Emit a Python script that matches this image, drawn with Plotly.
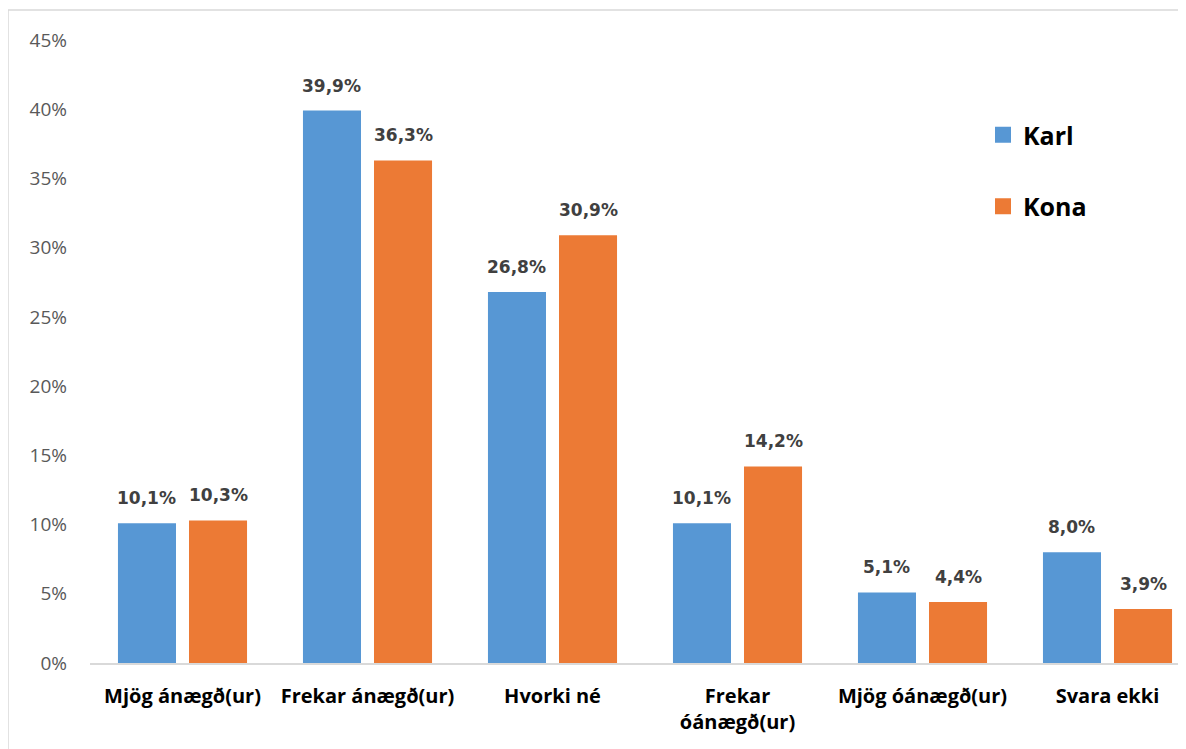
import plotly.graph_objects as go

categories = ["Mjög ánægð(ur)", "Frekar ánægð(ur)", "Hvorki né", "Frekar<br>óánægð(ur)", "Mjög óánægð(ur)", "Svara ekki"]
karl = [10.1, 39.9, 26.8, 10.1, 5.1, 8.0]
kona = [10.3, 36.3, 30.9, 14.2, 4.4, 3.9]
series_names = ["Karl", "Kona"]
tick_vals = [0, 5, 10, 15, 20, 25, 30, 35, 40, 45]
tick_text = [f"{v}%" for v in tick_vals]

blue = "#5797d4"
orange = "#ec7a35"
FONT = "Open Sans"

x_idx = list(range(len(categories)))

fig = go.Figure()
for name, vals, col in [(series_names[0], karl, blue), (series_names[1], kona, orange)]:
    fig.add_trace(go.Bar(x=x_idx, y=vals, name=name, marker=dict(color=col, line=dict(width=0)),
                         showlegend=False))
    fig.add_trace(go.Scatter(x=[None], y=[None], mode="markers", name=name, legendgroup=name,
                             marker=dict(symbol="square", size=16, color=col)))

def fmt(v):
    return f"{v:.1f}".replace(".", ",") + "%"

bargap = 0.232
off = (1 - bargap) / 4
for vals, sgn in [(karl, -1), (kona, 1)]:
    for i, v in enumerate(vals):
        fig.add_annotation(x=i + sgn * off, y=v, text=f"<b>{fmt(v)}</b>", showarrow=False,
                           yanchor="bottom", yshift=13,
                           font=dict(family="DejaVu Sans", size=17, color="#404040"))

# page body has an 8px margin, so the figure is placed to compensate
W, H = 1178, 741
L, R, T, B = 82, 0, 32, 86
pw = W - L - R
ph = H - T - B
fig.add_shape(type="rect", xref="paper", yref="paper",
              x0=(0 - L) / pw, x1=1.2, y0=-0.5, y1=(H - B - 2) / ph,
              line=dict(color="#d9d9d9", width=1.5), fillcolor="rgba(0,0,0,0)", layer="below")

fig.update_layout(
    width=W, height=H,
    margin=dict(l=L, r=R, t=T, b=B),
    paper_bgcolor="white", plot_bgcolor="white",
    barmode="group", bargap=bargap, bargroupgap=0.183,
    font=dict(family=FONT),
    legend=dict(x=(975 - L) / pw, xanchor="left", y=(H - B - 104) / ph, yanchor="top",
                font=dict(family=FONT, size=25, color="black", weight="bold"),
                tracegroupgap=36, bgcolor="rgba(0,0,0,0)"),
    xaxis=dict(range=[-0.5, -0.5 + pw / 185], tickvals=x_idx,
               ticktext=[f"<b>{c}</b>" for c in categories],
               tickfont=dict(family=FONT, size=20, color="black"),
               showgrid=False, zeroline=False, showline=True, linecolor="#d9d9d9", linewidth=1.5,
               ticks="", ticklabelstandoff=14),
    yaxis=dict(range=[0, 45], tickvals=tick_vals, ticktext=tick_text,
               tickfont=dict(family=FONT, size=19, color="#595959"),
               showgrid=False, zeroline=False, showline=False, ticks="", ticklabelstandoff=22),
)

fig.write_html("out.html")
